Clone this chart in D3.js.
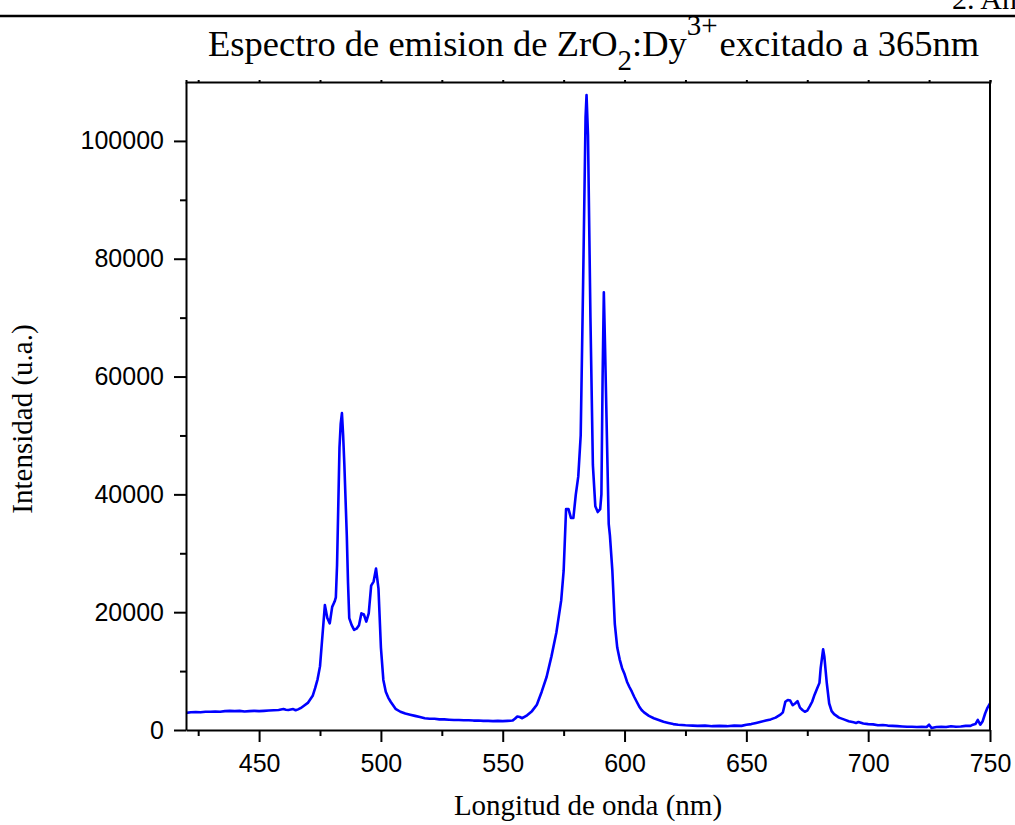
<!DOCTYPE html>
<html>
<head>
<meta charset="utf-8">
<script src="https://d3js.org/d3.v7.min.js"></script>
<style>
  body { margin: 0; background: #fff; }
  .axis path, .axis line { stroke: #000; stroke-width: 2; }
  .axis text { font-family: Arial, "Liberation Sans", sans-serif; font-size: 25px; fill: #000; }
  .serif { font-family: "Times New Roman", "Liberation Serif", serif; fill: #000; }
</style>
</head>
<body>
<div id="chart"></div>
<script>
// Spectrum data (wavelength in nm, intensity in u.a.)
var wavelength = [
  420, 422, 424, 426, 428, 430, 432, 434, 436, 438, 440, 442, 444, 446, 448,
  450, 452, 454, 456, 458, 460, 461, 462, 464, 465, 466, 467, 468, 470, 472,
  473, 474, 475, 476, 477, 478, 479, 480, 481, 481.5, 482, 482.5, 483, 483.5, 484,
  484.5, 485, 485.5, 486, 486.5, 487, 488, 489, 490, 491, 492, 493, 494, 495, 496,
  497, 498, 499, 500, 501, 502, 503, 504, 505, 506, 508, 510, 512, 514, 516,
  518, 520, 522, 524, 526, 528, 530, 532, 534, 536, 538, 540, 542, 544, 546,
  548, 550, 552, 554, 555, 556, 557, 558, 560, 562, 564, 566, 568, 570, 572,
  574, 575, 576, 577, 578, 579, 580, 581, 582, 583, 584, 584.4, 585, 586, 587,
  588, 589, 590, 590.5, 591, 591.5, 592, 592.5, 593, 593.5, 594, 595, 596, 597, 598,
  599, 600, 601, 602, 603, 604, 605, 606, 607, 608, 610, 612, 614, 616, 618,
  620, 622, 625, 628, 630, 633, 636, 639, 642, 645, 648, 650, 652, 654, 656,
  658, 660, 662, 664, 665, 666, 667, 668, 669, 670, 671, 672, 673, 674, 675,
  676, 677, 678, 679, 680, 680.5, 681.5, 682, 683, 684, 685, 686, 687, 688, 690,
  692, 694, 695, 696, 698, 700, 702, 704, 706, 708, 710, 712, 714, 716, 718,
  720, 722, 724, 725, 726, 728, 730, 732, 734, 736, 738, 740, 742, 743, 744,
  745, 746, 747, 748, 749, 750
];
var intensity = [
  2900, 3000, 3050, 3000, 3100, 3100, 3150, 3100, 3200, 3250, 3200, 3250, 3150, 3200, 3250,
  3200, 3250, 3300, 3350, 3400, 3550, 3450, 3400, 3550, 3350, 3500, 3700, 4000, 4600, 5800,
  7100, 8600, 10800, 16000, 21200, 19000, 18100, 20900, 21800, 22500, 28000, 38000, 48000, 52000, 53800,
  50000, 45000, 39000, 33000, 25000, 19000, 17800, 17000, 17200, 17800, 19800, 19600, 18400, 19800, 24500,
  25200, 27400, 24000, 14000, 8500, 6500, 5500, 4800, 4200, 3600, 3100, 2800, 2600, 2400, 2200,
  2000, 1900, 1900, 1800, 1800, 1750, 1700, 1700, 1650, 1650, 1600, 1600, 1550, 1550, 1500,
  1550, 1500, 1550, 1600, 1900, 2300, 2200, 2000, 2500, 3200, 4300, 6500, 9000, 12500, 16500,
  22000, 27000, 37500, 37500, 36000, 36000, 40000, 43000, 50000, 76000, 104000, 107800, 101000, 70000, 45000,
  38000, 37000, 37500, 40000, 60000, 74300, 65000, 55000, 45000, 35000, 33000, 27000, 18000, 14000, 12000,
  10500, 9500, 8200, 7300, 6500, 5600, 4800, 4000, 3400, 3000, 2400, 2000, 1700, 1400, 1200,
  1000, 900, 800, 750, 700, 750, 650, 700, 650, 750, 700, 900, 1000, 1200, 1400,
  1600, 1800, 2100, 2600, 3000, 4800, 5100, 5000, 4200, 4500, 4900, 3800, 3400, 3100, 3300,
  4000, 4800, 6000, 7000, 8000, 10500, 13700, 12500, 8000, 4500, 3200, 2700, 2400, 2100, 1800,
  1500, 1300, 1200, 1350, 1100, 1000, 950, 800, 850, 750, 700, 650, 600, 550, 550,
  500, 550, 500, 900, 350, 500, 550, 500, 650, 550, 600, 700, 700, 900, 1000,
  1700, 900, 1500, 2800, 3800, 4500
];

// Tick values
var xTicks = [450, 500, 550, 600, 650, 700, 750];
var xMinorTicks = [425, 475, 525, 575, 625, 675, 725];
var yTicks = [0, 20000, 40000, 60000, 80000, 100000];
var yMinorTicks = [10000, 30000, 50000, 70000, 90000];

// Text
var titleMain = "Espectro de emision de ZrO";
var xLabel = "Longitud de onda (nm)";
var yLabel = "Intensidad (u.a.)";

var svgWidth = 1015;
var svgHeight = 825;

// Plot frame in page pixels
var frame = { left: 186, right: 990, top: 82, bottom: 730 };

var svg = d3.select("#chart")
  .append("svg")
  .attr("width", svgWidth)
  .attr("height", svgHeight);

var xScale = d3.scaleLinear()
  .domain([420, 750])
  .range([frame.left, frame.right]);

var yScale = d3.scaleLinear()
  .domain([0, 110000])
  .range([frame.bottom, frame.top]);

// Page header rule and cut-off section title
svg.append("line")
  .attr("x1", 0).attr("x2", svgWidth)
  .attr("y1", 16).attr("y2", 16)
  .attr("stroke", "#000")
  .attr("stroke-width", 2.5);

svg.append("text")
  .attr("class", "serif")
  .attr("x", 952)
  .attr("y", 9)
  .style("font-size", "30px")
  .text("2. Análisis");

// Title with subscript and superscript
var title = svg.append("text")
  .attr("class", "serif")
  .attr("x", 208)
  .attr("y", 56)
  .style("font-size", "36.5px");
title.append("tspan").text(titleMain);
title.append("tspan").attr("dy", 14).style("font-size", "29px").text("2");
title.append("tspan").attr("dy", -14).text(":Dy");
title.append("tspan").attr("dy", -21).style("font-size", "29px").text("3+");
title.append("tspan").attr("dy", 21).attr("dx", 2).text("excitado a 365nm");

// Clip path so the line stays inside the frame
svg.append("clipPath")
  .attr("id", "plot-clip")
  .append("rect")
  .attr("x", frame.left)
  .attr("y", frame.top)
  .attr("width", frame.right - frame.left)
  .attr("height", frame.bottom - frame.top);

// Spectrum line
var points = wavelength.map(function(w, i) { return [w, intensity[i]]; });

var line = d3.line()
  .x(d => xScale(d[0]))
  .y(d => yScale(d[1]));

svg.append("path")
  .datum(points)
  .attr("clip-path", "url(#plot-clip)")
  .attr("fill", "none")
  .attr("stroke", "#0000ff")
  .attr("stroke-width", 2.6)
  .attr("stroke-linejoin", "round")
  .attr("d", line);

// Top and right frame lines
svg.append("g")
  .classed("axis", true)
  .attr("transform", "translate(0," + frame.top + ")")
  .call(d3.axisTop(xScale).tickValues(xTicks.concat(xMinorTicks)).tickSize(2).tickFormat(""))
  .selectAll("line").attr("stroke-width", 1);

svg.append("line")
  .attr("x1", frame.right).attr("x2", frame.right)
  .attr("y1", frame.top).attr("y2", frame.bottom)
  .attr("stroke", "#000")
  .attr("stroke-width", 2);

// Minor ticks
svg.append("g")
  .classed("axis", true)
  .attr("transform", "translate(0," + frame.bottom + ")")
  .call(d3.axisBottom(xScale).tickValues(xMinorTicks).tickSize(6).tickFormat(""))
  .select(".domain").remove();

svg.append("g")
  .classed("axis", true)
  .attr("transform", "translate(" + frame.left + ",0)")
  .call(d3.axisLeft(yScale).tickValues(yMinorTicks).tickSize(6).tickFormat(""))
  .select(".domain").remove();

// Major axes
svg.append("g")
  .classed("axis", true)
  .attr("transform", "translate(0," + frame.bottom + ")")
  .call(d3.axisBottom(xScale).tickValues(xTicks).tickSize(12).tickSizeOuter(0).tickPadding(12).tickFormat(d3.format("d")));

svg.append("g")
  .classed("axis", true)
  .attr("transform", "translate(" + frame.left + ",0)")
  .call(d3.axisLeft(yScale).tickValues(yTicks).tickSize(12).tickSizeOuter(0).tickPadding(10).tickFormat(d3.format("d")));

// Axis labels
svg.append("text")
  .attr("class", "serif")
  .attr("x", (frame.left + frame.right) / 2)
  .attr("y", 815)
  .attr("text-anchor", "middle")
  .style("font-size", "29px")
  .text(xLabel);

svg.append("text")
  .attr("class", "serif")
  .attr("transform", "translate(32,419) rotate(-90)")
  .attr("text-anchor", "middle")
  .style("font-size", "29px")
  .text(yLabel);
</script>
</body>
</html>
